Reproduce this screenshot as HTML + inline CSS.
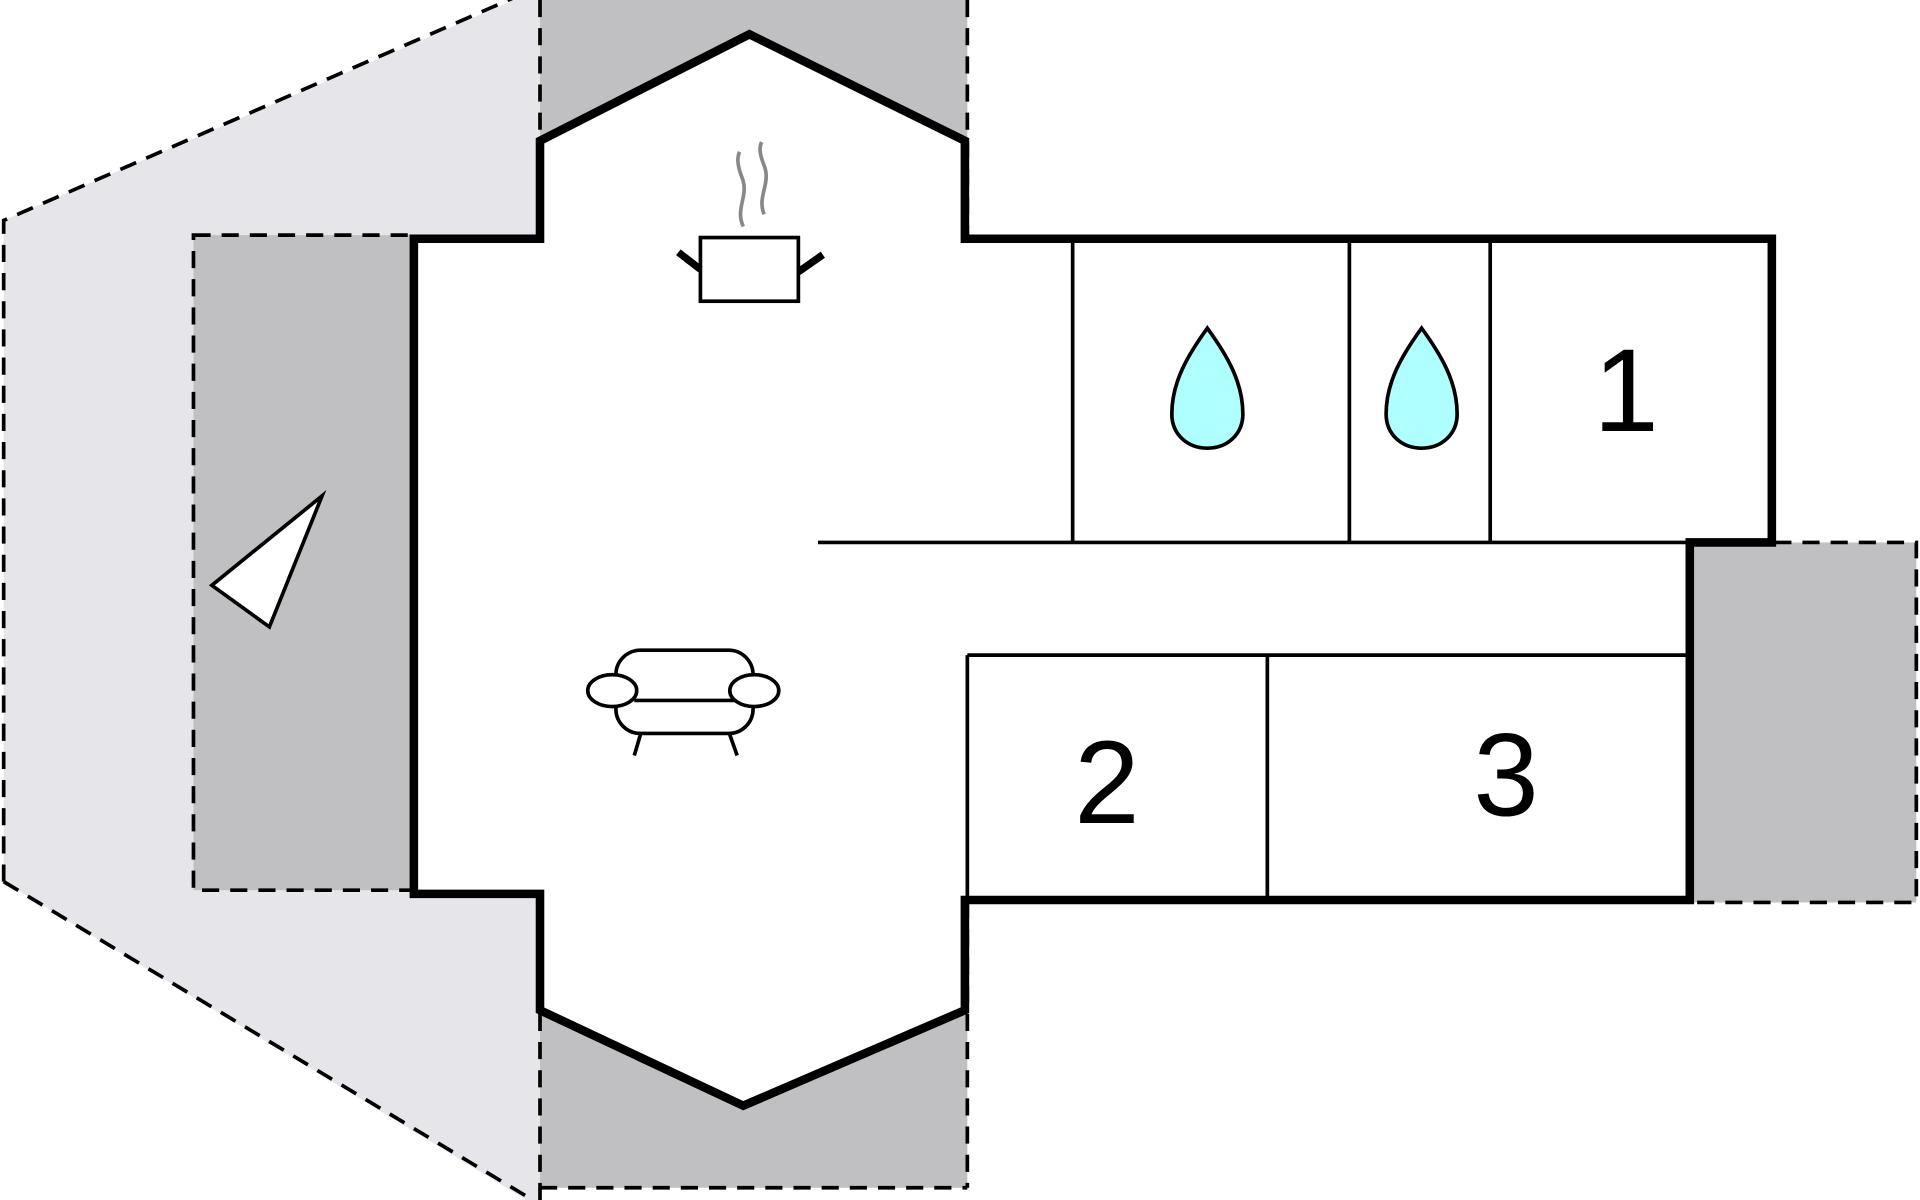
<!DOCTYPE html>
<html><head><meta charset="utf-8"><style>html,body{margin:0;padding:0;background:#fff}svg{display:block}</style></head>
<body>
<svg width="1920" height="1200" viewBox="0 0 1568 980" xmlns="http://www.w3.org/2000/svg">
<rect width="1568" height="980" fill="#fff"/>
<polygon points="3,180 420,0 441,0 441,980 430,980 3,720" fill="#e6e6ea"/>
<polyline points="3,720 3,180 420,-2" fill="none" stroke="#000" stroke-width="3" stroke-dasharray="14,9"/>
<line x1="3" y1="720" x2="435" y2="980" stroke="#000" stroke-width="3" stroke-dasharray="14,9"/>
<rect x="441" y="0" width="349" height="120" fill="#c0c0c2"/>
<rect x="441" y="820" width="349" height="150" fill="#c0c0c2"/>
<rect x="158" y="192" width="180" height="535" fill="#c0c0c2" stroke="#000" stroke-width="3" stroke-dasharray="14,9"/>
<rect x="1380" y="443" width="185" height="294" fill="#c0c0c2" stroke="#000" stroke-width="3" stroke-dasharray="14,9"/>
<line x1="441" y1="0" x2="441" y2="980" stroke="#000" stroke-width="3" stroke-dasharray="14,9"/>
<line x1="790" y1="0" x2="790" y2="970" stroke="#000" stroke-width="3" stroke-dasharray="14,9"/>
<line x1="441" y1="970" x2="790" y2="970" stroke="#000" stroke-width="3" stroke-dasharray="14,9"/>
<polygon points="441,115 612,28 788,115 788,195 1447,195 1447,443 1380,443 1380,735 788,735 788,825 607,903 441,825 441,730 338,730 338,195 441,195" fill="#fff" stroke="#000" stroke-width="7"/>
<g stroke="#000" stroke-width="3" fill="none">
<line x1="668" y1="443" x2="1447" y2="443"/>
<line x1="876" y1="195" x2="876" y2="443"/>
<line x1="1102" y1="195" x2="1102" y2="443"/>
<line x1="1217" y1="195" x2="1217" y2="443"/>
<line x1="790" y1="535" x2="1380" y2="535"/>
<line x1="790" y1="535" x2="790" y2="735"/>
<line x1="1035" y1="535" x2="1035" y2="735"/>
</g>
<g font-family="Liberation Sans, sans-serif" font-size="96" text-anchor="middle" fill="#000">
<text x="1328" y="352">1</text>
<text x="904" y="672">2</text>
<text x="1230" y="666">3</text>
</g>
<path d="M986,268 C970,290 957,312 957,338 C957,355 970,366 986,366 C1002,366 1015,355 1015,338 C1015,312 1002,290 986,268 Z" fill="#b0ffff" stroke="#000" stroke-width="3"/>
<path d="M1161,268 C1145,290 1132,312 1132,338 C1132,355 1145,366 1161,366 C1177,366 1190,355 1190,338 C1190,312 1177,290 1161,268 Z" fill="#b0ffff" stroke="#000" stroke-width="3"/>
<polygon points="173,478 263,405 220,512" fill="#fff" stroke="#000" stroke-width="3"/>
<g fill="none">
<path d="M607,185 C600,170 612,160 606,145 C602,135 602,128 604,124" stroke="#888" stroke-width="3"/>
<path d="M624,175 C618,160 630,150 624,135 C620,125 620,120 622,116" stroke="#888" stroke-width="3"/>
<rect x="572" y="194" width="80" height="52" stroke="#000" stroke-width="3" fill="#fff"/>
<line x1="554" y1="206" x2="572" y2="220" stroke="#000" stroke-width="6"/>
<line x1="672" y1="208" x2="652" y2="222" stroke="#000" stroke-width="6"/>
<rect x="503" y="531" width="112" height="68" rx="20" stroke="#000" stroke-width="3" fill="#fff"/>
<line x1="518" y1="572" x2="600" y2="572" stroke="#000" stroke-width="3"/>
<ellipse cx="500" cy="564" rx="20" ry="13" stroke="#000" stroke-width="3" fill="#fff"/>
<ellipse cx="616" cy="564" rx="20" ry="13" stroke="#000" stroke-width="3" fill="#fff"/>
<line x1="523" y1="600" x2="518" y2="617" stroke="#000" stroke-width="3"/>
<line x1="596" y1="600" x2="602" y2="617" stroke="#000" stroke-width="3"/>
</g>
</svg>
</body></html>
